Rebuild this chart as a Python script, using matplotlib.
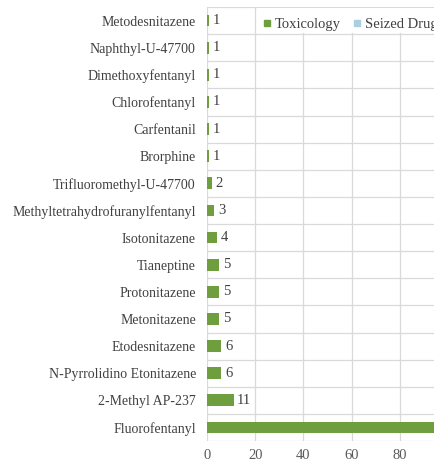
import matplotlib
matplotlib.use("Agg")
import matplotlib.pyplot as plt
from matplotlib.lines import Line2D
from matplotlib.patches import Rectangle

categories = ["Metodesnitazene", "Naphthyl-U-47700", "Dimethoxyfentanyl", "Chlorofentanyl",
              "Carfentanil", "Brorphine", "Trifluoromethyl-U-47700",
              "Methyltetrahydrofuranylfentanyl", "Isotonitazene", "Tianeptine",
              "Protonitazene", "Metonitazene", "Etodesnitazene",
              "N-Pyrrolidino Etonitazene", "2-Methyl AP-237", "Fluorofentanyl"]
toxicology = [1, 1, 1, 1, 1, 1, 2, 3, 4, 5, 5, 5, 6, 6, 11, 98]
seized_drug = [0, 0, 0, 0, 0, 0, 0, 0, 0, 0, 0, 0, 0, 0, 0, 0]
xticks = [0, 20, 40, 60, 80, 100, 120]

plt.rcParams['font.family'] = ['Liberation Serif', 'DejaVu Serif']
green = '#6f9e3f'
blue = '#a9cfe0'
textc = '#404040'

fig = plt.figure(figsize=(4.35, 4.63), dpi=100)
W, H = 435, 463
left = 207 / W
top = 1 - 7 / H
bottom = 1 - 441 / H
ax = fig.add_axes([left, bottom, 120 * 2.41 / W, top - bottom])

n = len(categories)
ypos = list(range(n))[::-1]
ax.barh(ypos, toxicology, height=0.43, color=green, zorder=3, label='Toxicology')
ax.barh(ypos, seized_drug, left=toxicology, height=0.43, color=blue, zorder=3, label='Seized Drug')

for y, v in zip(ypos, toxicology):
    ax.text(v + 1.5, y, str(v), va='center', ha='left', fontsize=10.5, color=textc)

ax.set_xlim(0, 120)
ax.set_ylim(-0.5, n - 0.5)
ax.set_yticks(ypos)
ax.set_yticklabels(categories, fontsize=10, color=textc)
ax.set_xticks(xticks)
ax.set_xticklabels([str(t) for t in xticks], fontsize=10.5, color='#595959')
ax.tick_params(axis='both', length=0)
ax.tick_params(axis='y', pad=8)
ax.tick_params(axis='x', pad=6)

# gridlines
for xt in xticks:
    ax.axvline(xt, color='#d9d9d9', lw=0.9, zorder=1)
for b in [i - 0.5 for i in range(n + 1)]:
    ax.axhline(b, color='#d9d9d9', lw=0.9, zorder=1)
for s in ax.spines.values():
    s.set_visible(False)

# white legend background in first row
ax.add_patch(Rectangle((258 / W, 1 - 33 / H), (W - 258) / W, 25 / H,
                       transform=fig.transFigure, facecolor='white',
                       edgecolor='none', zorder=2, clip_on=False))

handles = [Line2D([], [], marker='s', ls='', color=green, markersize=5),
           Line2D([], [], marker='s', ls='', color=blue, markersize=5)]
leg = fig.legend(handles, ['Toxicology', 'Seized Drug'], loc='upper left',
                 bbox_to_anchor=(252 / W, 1 - 6 / H), ncol=2, frameon=False,
                 fontsize=10.5, handlelength=0.5, handletextpad=0.25,
                 columnspacing=0.9, borderpad=0.3, labelcolor=textc)
leg.set_zorder(10)

fig.savefig('out.png', dpi=100)
